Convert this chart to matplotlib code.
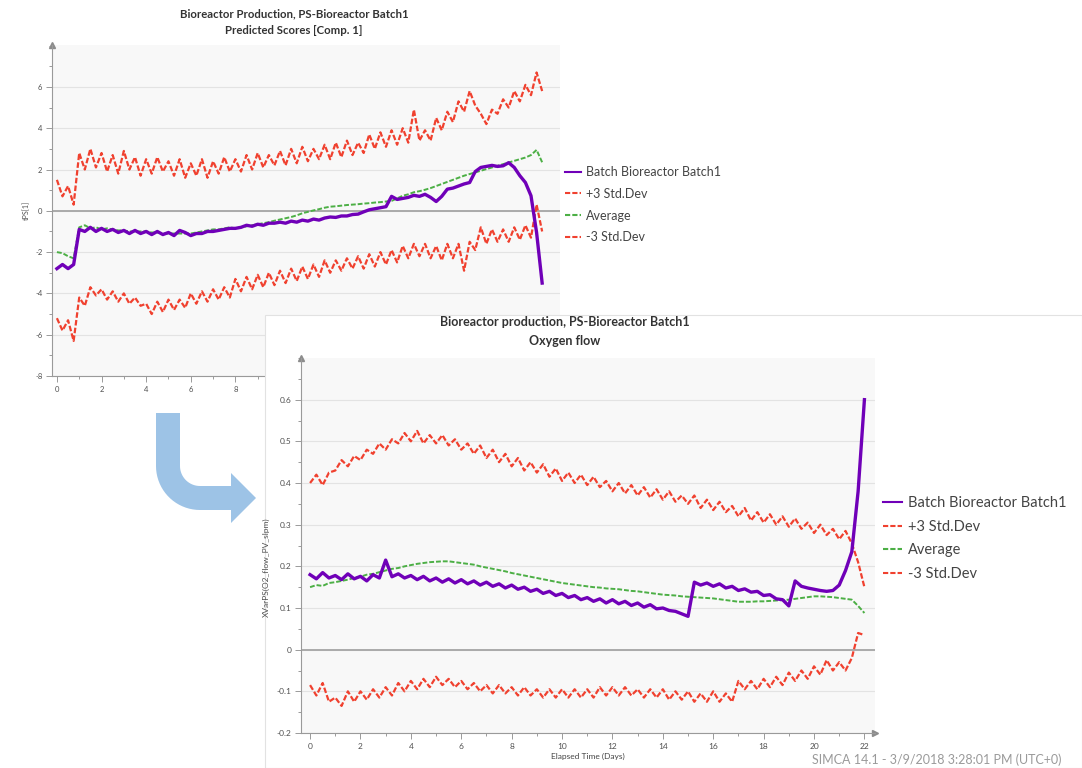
import numpy as np
import matplotlib
matplotlib.use("Agg")
import matplotlib.pyplot as plt
from matplotlib.patches import Rectangle, PathPatch
from matplotlib.path import Path
from matplotlib.ticker import MultipleLocator

plt.rcParams['font.family'] = ['Lato', 'DejaVu Sans']
plt.rcParams['axes.unicode_minus'] = False

W, H = 1082, 768

# ---- top chart: predicted scores, sampled every 0.25 day (0 .. 21.75)
score_days = np.arange(88) * 0.25
scores_batch = [
    -2.8, -2.6, -2.8, -2.6, -0.9, -1.0, -0.8, -1.0,
    -0.85, -1.0, -0.9, -1.05, -0.95, -1.1, -0.95, -1.1,
    -1.0, -1.15, -1.0, -1.15, -1.05, -1.2, -0.95, -1.05,
    -1.2, -1.1, -1.1, -1.0, -1.0, -0.95, -0.9, -0.85,
    -0.85, -0.8, -0.7, -0.75, -0.65, -0.7, -0.6, -0.6,
    -0.55, -0.6, -0.5, -0.55, -0.45, -0.5, -0.4, -0.45,
    -0.35, -0.3, -0.32, -0.25, -0.25, -0.18, -0.16, -0.05,
    0.05, 0.1, 0.15, 0.2, 0.7, 0.55, 0.6, 0.65,
    0.75, 0.7, 0.8, 0.65, 0.45, 0.7, 1.05, 1.1,
    1.2, 1.3, 1.37, 1.9, 2.1, 2.15, 2.2, 2.15,
    2.18, 2.33, 2.1, 1.7, 1.37, 0.73, -1.05, -3.5,
]
scores_plus3 = [
    1.5, 0.7, 1.2, 0.3, 2.8, 2.0, 3.0, 2.1,
    2.8, 1.9, 2.7, 1.8, 2.9, 2.0, 2.6, 1.7,
    2.5, 1.8, 2.6, 1.9, 2.4, 1.7, 2.5, 1.6,
    2.3, 1.7, 2.5, 1.6, 2.4, 1.8, 2.6, 1.9,
    2.5, 1.9, 2.7, 2.0, 2.8, 2.1, 2.7, 2.2,
    2.9, 2.2, 3.0, 2.3, 3.1, 2.4, 3.0, 2.5,
    3.2, 2.5, 3.3, 2.6, 3.4, 2.7, 3.3, 2.8,
    3.7, 3.0, 3.8, 3.1, 3.9, 3.2, 4.0, 3.3,
    4.9, 3.4, 3.9, 3.4, 4.5, 3.9, 4.8, 4.3,
    5.3, 4.8, 5.8, 5.1, 4.7, 4.2, 4.9, 4.7,
    5.4, 5.0, 5.8, 5.3, 6.1, 5.6, 6.7, 5.8,
]
scores_avg = [
    -2.0, -2.05, -2.2, -2.3, -0.8, -0.7, -0.85, -0.8,
    -0.9, -0.85, -0.9, -0.95, -0.95, -1.0, -1.0, -1.0,
    -1.0, -1.05, -1.05, -1.1, -1.1, -1.1, -1.1, -1.1,
    -1.1, -1.05, -1.0, -0.95, -0.9, -0.9, -0.85, -0.8,
    -0.85, -0.8, -0.75, -0.7, -0.65, -0.6, -0.55, -0.48,
    -0.42, -0.36, -0.3, -0.22, -0.12, -0.05, 0.02, 0.08,
    0.15, 0.2, 0.22, 0.25, 0.28, 0.3, 0.32, 0.35,
    0.37, 0.4, 0.42, 0.45, 0.48, 0.6, 0.73, 0.8,
    0.9, 0.95, 1.02, 1.1, 1.2, 1.3, 1.4, 1.5,
    1.6, 1.7, 1.78, 1.86, 1.94, 2.02, 2.1, 2.18,
    2.26, 2.34, 2.42, 2.5, 2.58, 2.7, 2.95, 2.35,
]
scores_minus3 = [
    -5.2, -5.8, -5.3, -6.3, -4.2, -4.6, -3.7, -4.1,
    -3.8, -4.3, -3.9, -4.4, -4.0, -4.5, -4.2, -4.6,
    -4.5, -5.0, -4.4, -4.9, -4.3, -4.8, -4.3, -4.7,
    -4.0, -4.5, -3.9, -4.4, -3.8, -4.3, -3.7, -4.2,
    -3.3, -3.9, -3.2, -3.8, -3.1, -3.7, -3.0, -3.6,
    -2.9, -3.5, -2.8, -3.4, -2.7, -3.3, -2.6, -3.2,
    -2.4, -3.0, -2.4, -2.9, -2.3, -2.8, -2.2, -2.8,
    -2.1, -2.7, -2.0, -2.6, -1.9, -2.5, -1.7, -2.3,
    -1.6, -2.2, -1.6, -2.3, -1.7, -2.4, -1.6, -2.3,
    -1.6, -2.9, -1.5, -1.9, -0.8, -1.6, -0.9, -1.5,
    -0.9, -1.5, -0.8, -1.4, -0.7, -1.3, 0.3, -1.0,
]

# ---- bottom chart: oxygen flow, sampled every 0.25 day (0 .. 22)
o2_days = np.arange(89) * 0.25
o2_batch = [
    0.180, 0.170, 0.185, 0.172, 0.178, 0.168, 0.182, 0.170,
    0.176, 0.165, 0.180, 0.172, 0.215, 0.175, 0.182, 0.172,
    0.178, 0.168, 0.176, 0.165, 0.172, 0.162, 0.170, 0.160,
    0.168, 0.158, 0.165, 0.155, 0.162, 0.152, 0.158, 0.148,
    0.155, 0.145, 0.150, 0.140, 0.145, 0.135, 0.140, 0.130,
    0.135, 0.125, 0.130, 0.120, 0.125, 0.116, 0.122, 0.112,
    0.120, 0.110, 0.116, 0.106, 0.112, 0.102, 0.108, 0.098,
    0.100, 0.094, 0.092, 0.086, 0.080, 0.162, 0.155, 0.160,
    0.152, 0.158, 0.148, 0.152, 0.142, 0.146, 0.138, 0.140,
    0.130, 0.132, 0.122, 0.120, 0.105, 0.165, 0.152, 0.148,
    0.145, 0.142, 0.140, 0.142, 0.155, 0.190, 0.235, 0.380,
    0.600,
]
o2_plus3 = [
    0.400, 0.420, 0.395, 0.425, 0.430, 0.455, 0.440, 0.465,
    0.455, 0.480, 0.470, 0.495, 0.480, 0.505, 0.495, 0.520,
    0.500, 0.525, 0.495, 0.515, 0.495, 0.515, 0.490, 0.505,
    0.480, 0.495, 0.470, 0.490, 0.460, 0.480, 0.450, 0.470,
    0.440, 0.460, 0.430, 0.450, 0.425, 0.445, 0.415, 0.435,
    0.405, 0.425, 0.400, 0.420, 0.395, 0.415, 0.390, 0.405,
    0.380, 0.400, 0.375, 0.395, 0.370, 0.390, 0.365, 0.385,
    0.360, 0.380, 0.355, 0.370, 0.350, 0.370, 0.340, 0.360,
    0.335, 0.355, 0.330, 0.345, 0.320, 0.340, 0.310, 0.330,
    0.305, 0.325, 0.300, 0.320, 0.295, 0.315, 0.290, 0.305,
    0.280, 0.300, 0.275, 0.290, 0.265, 0.285, 0.255, 0.210,
    0.150,
]
o2_avg = [
    0.150, 0.155, 0.153, 0.160, 0.162, 0.165, 0.168, 0.172,
    0.175, 0.180, 0.182, 0.186, 0.190, 0.194, 0.196, 0.200,
    0.203, 0.206, 0.208, 0.210, 0.211, 0.212, 0.212, 0.210,
    0.208, 0.206, 0.204, 0.200, 0.197, 0.194, 0.191, 0.188,
    0.184, 0.181, 0.178, 0.175, 0.172, 0.169, 0.166, 0.163,
    0.160, 0.158, 0.156, 0.154, 0.152, 0.150, 0.149, 0.147,
    0.146, 0.145, 0.143, 0.141, 0.140, 0.138, 0.136, 0.134,
    0.132, 0.131, 0.130, 0.128, 0.127, 0.126, 0.125, 0.124,
    0.123, 0.121, 0.119, 0.117, 0.115, 0.115, 0.115, 0.116,
    0.116, 0.117, 0.118, 0.119, 0.120, 0.122, 0.124, 0.126,
    0.128, 0.128, 0.127, 0.126, 0.124, 0.122, 0.120, 0.105,
    0.088,
]
o2_minus3 = [
    -0.085, -0.110, -0.080, -0.125, -0.115, -0.135, -0.100, -0.125,
    -0.100, -0.120, -0.095, -0.115, -0.090, -0.110, -0.080, -0.100,
    -0.075, -0.095, -0.070, -0.090, -0.065, -0.085, -0.070, -0.090,
    -0.075, -0.095, -0.080, -0.100, -0.085, -0.105, -0.085, -0.105,
    -0.090, -0.110, -0.090, -0.110, -0.095, -0.115, -0.095, -0.115,
    -0.095, -0.115, -0.095, -0.115, -0.095, -0.115, -0.090, -0.110,
    -0.090, -0.110, -0.090, -0.110, -0.095, -0.115, -0.095, -0.115,
    -0.095, -0.120, -0.100, -0.120, -0.100, -0.125, -0.105, -0.125,
    -0.100, -0.125, -0.105, -0.125, -0.075, -0.095, -0.075, -0.095,
    -0.070, -0.090, -0.065, -0.085, -0.055, -0.075, -0.050, -0.070,
    -0.040, -0.060, -0.025, -0.050, -0.030, -0.050, -0.020, 0.040,
    0.035,
]

labels = ['Batch Bioreactor Batch1', '+3 Std.Dev', 'Average', '-3 Std.Dev']
PURPLE = '#7000b8'
RED = '#f0412f'
GREEN = '#4caf45'
DASH = (0, (2.5, 1.0))


def frac(x0, y0, x1, y1):
    # pixel box (top-left origin) -> figure fraction rect
    return [x0 / W, 1 - y1 / H, (x1 - x0) / W, (y1 - y0) / H]


def style(ax, fs):
    ax.set_facecolor('#f8f8f8')
    for s in ['top', 'right']:
        ax.spines[s].set_visible(False)
    for s in ['left', 'bottom']:
        ax.spines[s].set_color('#9a9a9a')
        ax.spines[s].set_linewidth(0.8)
    ax.tick_params(which='both', color='#9a9a9a', labelcolor='#505050',
                   labelsize=fs, direction='out', width=0.7)
    ax.tick_params(which='major', length=4, pad=3)
    ax.tick_params(which='minor', length=2.5)
    ax.grid(axis='y', which='major', color='#e3e3e3', lw=0.8)
    ax.set_axisbelow(True)
    ax.axhline(0, color='#a5a5a5', lw=1.3, zorder=1)


def draw(ax, days, batch, plus3, avg, minus3):
    h2, = ax.plot(days, plus3, color=RED, lw=1.6, ls=DASH)
    h4, = ax.plot(days, minus3, color=RED, lw=1.6, ls=DASH)
    h3, = ax.plot(days, avg, color=GREEN, lw=1.4, ls=DASH)
    h1, = ax.plot(days, batch, color=PURPLE, lw=2.4)
    return [h1, h2, h3, h4]


def legend(ax, hs, x, y, fs, sp):
    lg = ax.legend(hs, labels, loc='upper left', bbox_to_anchor=(x / W, 1 - y / H),
                   bbox_transform=fig.transFigure, frameon=False, fontsize=fs,
                   handlelength=1.3, handletextpad=0.4, labelspacing=sp,
                   borderaxespad=0, borderpad=0, labelcolor='#444444')
    for ln in lg.get_lines():
        ln.set_linewidth(1.5)


fig = plt.figure(figsize=(W / 100, H / 100), dpi=100)
fig.patch.set_facecolor('white')

# ---- top chart
ax1 = fig.add_axes(frac(52, 45, 560, 376))
style(ax1, 5.5)
hs = draw(ax1, score_days, scores_batch, scores_plus3, scores_avg, scores_minus3)
ax1.set_xlim(-0.22, 22.55)
ax1.set_ylim(-8, 8.03)
ax1.set_yticks(np.arange(-8, 7, 2))
ax1.yaxis.set_minor_locator(MultipleLocator(1))
ax1.set_xticks(np.arange(0, 23, 2))
ax1.xaxis.set_minor_locator(MultipleLocator(1))
ax1.set_ylabel('tPS[1]', fontsize=5, color='#505050')
ax1.yaxis.set_label_coords(-0.043, 0.5)
ax1.plot(0, 1, marker='^', ms=4.5, color='#8c8c8c', transform=ax1.transAxes, clip_on=False)
legend(ax1, hs, 565, 166, 9, 0.78)

fig.text(294 / W, 1 - 14 / H, 'Bioreactor Production, PS-Bioreactor Batch1',
         ha='center', va='center', fontsize=8.2, weight='bold', color='#333333')
fig.text(294 / W, 1 - 31 / H, 'Predicted Scores [Comp. 1]',
         ha='center', va='center', fontsize=8.2, weight='bold', color='#333333')

# ---- bent arrow between the charts (drawn in pixel space)
def px(x, y):
    return (x / 100, (H - y) / 100)

cx, cy, r_in, r_out = 200, 466, 20, 44
ang = np.linspace(np.pi, np.pi / 2, 20)  # from left to bottom (y down)
inner = [px(cx + r_in * np.cos(a), cy + r_in * np.sin(a)) for a in ang]
outer = [px(cx + r_out * np.cos(a), cy + r_out * np.sin(a)) for a in ang[::-1]]
verts = ([px(156, 413), px(180, 413)] + inner +
         [px(231, 486), px(231, 473), px(256, 498), px(231, 523), px(231, 510)] +
         outer + [px(156, 413)])
arrow = PathPatch(Path(verts), facecolor='#9dc3e6', edgecolor='none',
                  transform=fig.dpi_scale_trans)
fig.add_artist(arrow)

# ---- bottom chart panel covering part of the top one
panel = Rectangle((265 / W, 0), 1 - 265 / W, 1 - 315 / H, transform=fig.transFigure,
                  facecolor='white', edgecolor='#e2e2e2', lw=0.8, zorder=2)
fig.add_artist(panel)

ax2 = fig.add_axes(frac(301, 358, 875, 733))
ax2.set_zorder(3)
style(ax2, 6)
hs2 = draw(ax2, o2_days, o2_batch, o2_plus3, o2_avg, o2_minus3)
ax2.set_xlim(-0.36, 22.42)
ax2.set_ylim(-0.2, 0.70)
yt = np.round(np.arange(-0.2, 0.61, 0.1), 1)
ax2.set_yticks(yt)
ax2.set_yticklabels([f'{v:g}' for v in yt])
ax2.yaxis.set_minor_locator(MultipleLocator(0.05))
ax2.set_xticks(np.arange(0, 23, 2))
ax2.xaxis.set_minor_locator(MultipleLocator(1))
ax2.set_xlabel('Elapsed Time (Days)', fontsize=6, color='#444444', labelpad=2)
ax2.set_ylabel('XVarPS(O2_flow_PV_slpm)', fontsize=6, color='#505050')
ax2.yaxis.set_label_coords(-0.054, 0.443)
ax2.plot(0, 1, marker='^', ms=4.5, color='#8c8c8c', transform=ax2.transAxes, clip_on=False)
ax2.plot(1, 0, marker='>', ms=4.5, color='#8c8c8c', transform=ax2.transAxes, clip_on=False)
legend(ax2, hs2, 883, 496, 10.5, 0.66)

fig.text(565 / W, 1 - 322 / H, 'Bioreactor production, PS-Bioreactor Batch1',
         ha='center', va='center', fontsize=9, weight='bold', color='#333333', zorder=4)
fig.text(565 / W, 1 - 341 / H, 'Oxygen flow',
         ha='center', va='center', fontsize=9, weight='bold', color='#333333', zorder=4)

fig.text(812 / W, 1 - 766 / H, 'SIMCA 14.1 - 3/9/2018 3:28:01 PM (UTC+0)',
         ha='left', va='bottom', fontsize=9, color='#9a9a9a', zorder=4)

fig.savefig('out.png', dpi=100)
